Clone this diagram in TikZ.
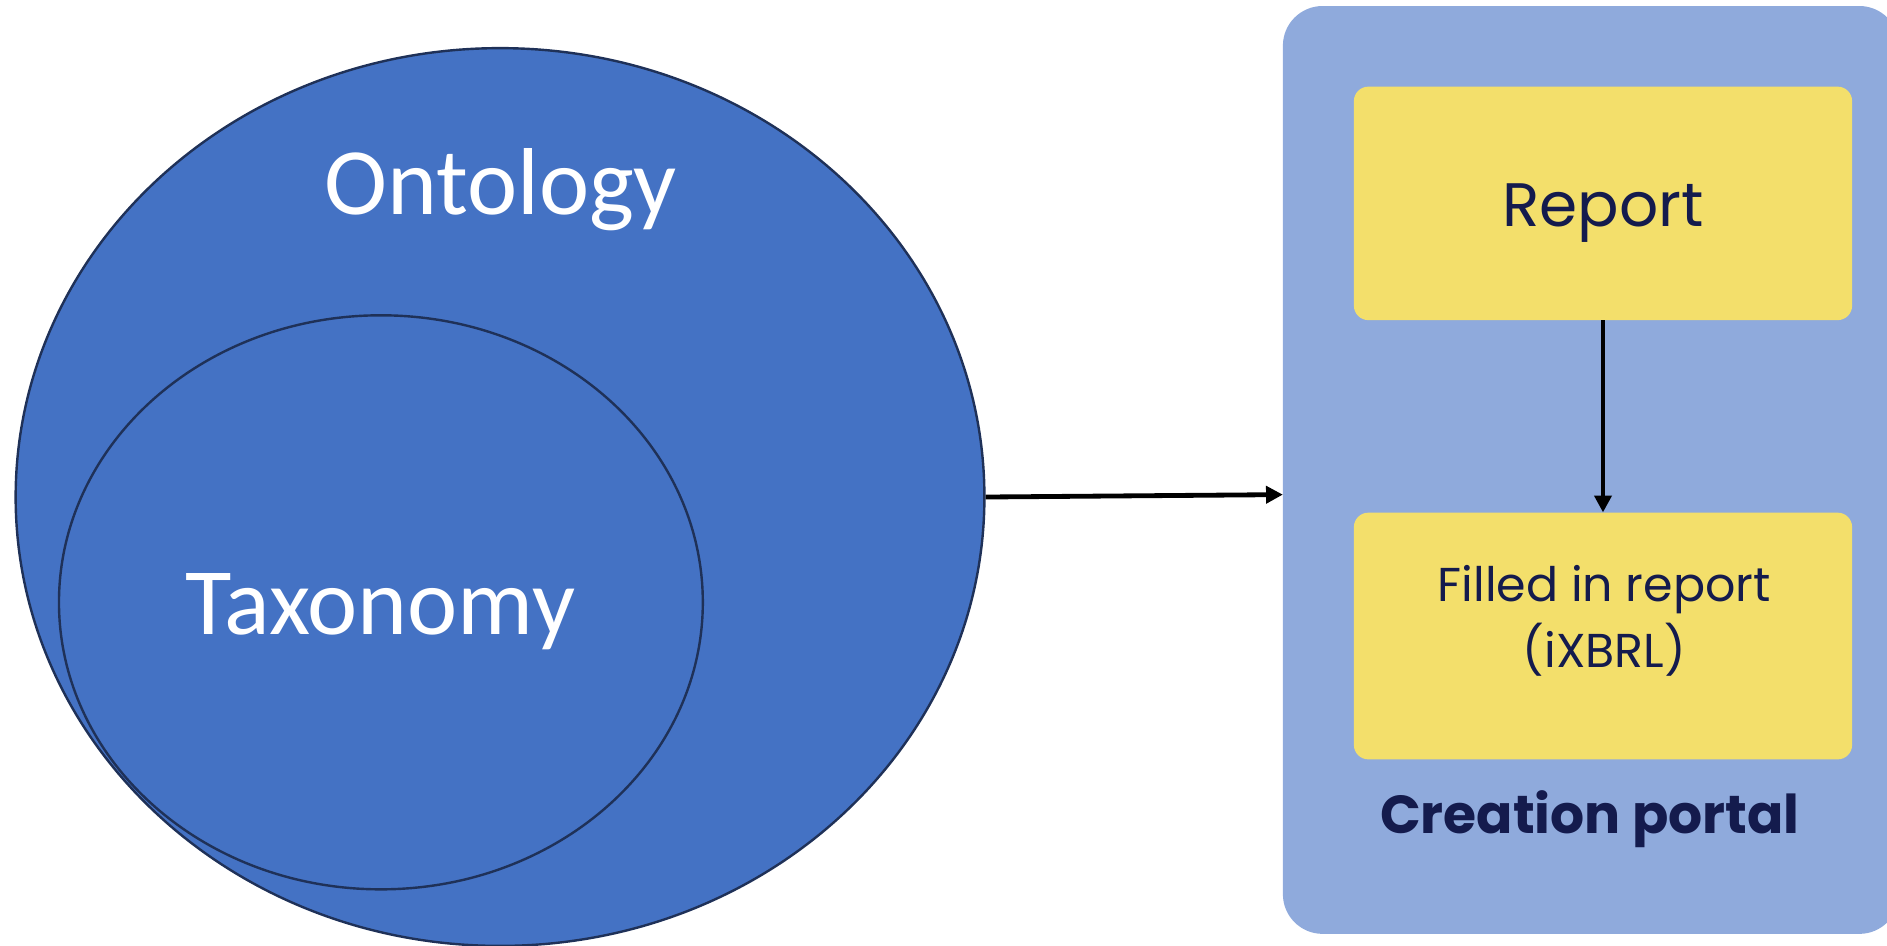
\documentclass[tikz,border=0pt]{standalone}
\usepackage{fontspec}
\usetikzlibrary{arrows.meta,shapes.geometric}
\newfontfamily\calfont{Carlito}
\newfontfamily\popfont{Poppins}
\definecolor{ellfill}{HTML}{4472C4}
\definecolor{elldraw}{HTML}{1F3158}
\definecolor{portalfill}{HTML}{8FAADC}
\definecolor{boxfill}{HTML}{F3DF6B}
\definecolor{navy}{HTML}{141B4D}
\tikzset{
  setellipse/.style={ellipse, draw=elldraw, fill=ellfill, line width=2pt, inner sep=0pt},
  yellowbox/.style={rectangle, fill=boxfill, rounded corners=12pt, inner sep=0pt},
  portalbox/.style={rectangle, fill=portalfill, rounded corners=33pt, inner sep=0pt},
  whitelabel/.style={text=white, anchor=base, inner sep=0pt, font=\calfont\fontsize{79}{95}\selectfont},
  navylabel/.style={text=navy, anchor=base, inner sep=0pt},
  conn/.style={line width=4pt, -{Triangle[length=14pt,width=14pt]}}
}
\begin{document}
\begin{tikzpicture}[x=1pt,y=-1pt]
\useasboundingbox (0,0) rectangle (1568,786);
% left: ontology / taxonomy
\node[setellipse, minimum width=805pt, minimum height=746pt] (onto) at (415.5,413) {};
\node[setellipse, minimum width=535pt, minimum height=477pt] (tax) at (316.5,500.5) {};
\node[whitelabel] (ontolabel) at (416,178) {Ontology};
\node[whitelabel] (taxlabel) at (316,527) {Taxonomy};
% right: creation portal
\node[portalbox, minimum width=512pt, minimum height=771pt] (portal) at (1322,390.5) {};
\node[yellowbox, minimum width=414pt, minimum height=194pt] (report) at (1332,169) {};
\node[yellowbox, minimum width=414pt, minimum height=205pt] (filled) at (1332,528.5) {};
\node[navylabel, font=\popfont\fontsize{51}{60}\selectfont] (reportlabel) at (1332,188) {Report};
\node[navylabel, font=\popfont\fontsize{39.5}{48}\selectfont] (filledlabel1) at (1333,500) {Filled in report};
\node[navylabel, font=\popfont\fontsize{39.5}{48}\selectfont] (filledlabel2) at (1333,555) {(iXBRL)};
\node[navylabel, font=\popfont\bfseries\fontsize{44.5}{54}\selectfont] (portallabel) at (1321,693) {Creation portal};
% connectors
\coordinate (portalin) at (1066,411);
\draw[conn] (onto.east) -- (portalin);
\draw[conn] (report.south) -- (filled.north);
\end{tikzpicture}
\end{document}
